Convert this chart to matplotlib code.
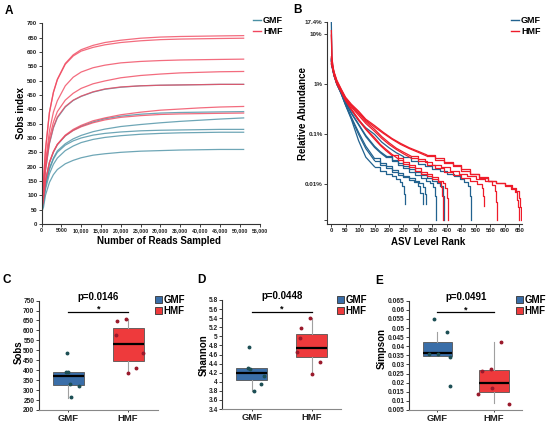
import matplotlib
matplotlib.use('Agg')
import matplotlib.pyplot as plt
from matplotlib.lines import Line2D
from matplotlib.patches import Patch

plt.rcParams['font.family'] = ['Liberation Sans', 'DejaVu Sans']
plt.rcParams['font.weight'] = 'bold'
plt.rcParams['axes.labelweight'] = 'bold'

# ---------------- Panel A data: rarefaction curves ----------------
A_READS = [0, 500, 1000, 2000, 3000, 4000, 6000, 8000, 10000, 13000, 16000,
           20000, 25000, 30000, 35000, 40000, 45000, 51000]
A_HMF = [
    [40, 150, 260, 390, 460, 505, 560, 590, 608, 623, 633, 641, 648, 652, 654, 655, 656, 657],
    [40, 150, 258, 388, 458, 503, 557, 586, 603, 616, 625, 633, 639, 643, 645, 646, 647, 648],
    [40, 130, 215, 325, 390, 430, 482, 512, 530, 545, 554, 562, 567, 570, 572, 573, 574, 575],
    [40, 120, 200, 300, 355, 392, 432, 456, 473, 489, 499, 510, 518, 523, 527, 529, 531, 532],
    [40, 110, 188, 283, 338, 373, 410, 432, 446, 461, 471, 478, 482, 484, 485, 486, 487, 487],
    [40, 90, 150, 215, 252, 278, 310, 330, 344, 360, 370, 381, 390, 397, 401, 405, 408, 410],
    [40, 90, 150, 215, 252, 278, 308, 326, 339, 353, 363, 372, 378, 382, 384, 385, 386, 387],
]
A_GMF = [
    [40, 108, 185, 280, 335, 370, 408, 431, 445, 460, 470, 477, 482, 484, 485, 486, 487, 487],
    [40, 88, 148, 213, 250, 276, 307, 327, 341, 356, 367, 376, 383, 387, 389, 390, 391, 392],
    [40, 82, 135, 195, 230, 255, 280, 297, 309, 322, 331, 340, 347, 353, 358, 362, 366, 370],
    [40, 80, 132, 190, 226, 250, 275, 290, 300, 310, 316, 321, 325, 327, 328, 329, 330, 330],
    [40, 72, 120, 175, 208, 230, 256, 272, 284, 295, 302, 308, 313, 316, 318, 319, 320, 320],
    [40, 58, 100, 145, 172, 190, 210, 222, 231, 240, 245, 250, 254, 256, 258, 259, 260, 260],
]
A_XTICKS = list(range(0, 55001, 5000))
A_XLABELS = ['0', '5000', '10,000', '15,000', '20,000', '25,000', '30,000', '35,000',
             '40,000', '45,000', '50,000', '55,000']
A_YTICKS = list(range(0, 701, 50))

# ---------------- Panel B data: rank-abundance curves (%) ----------------
B_HEAD_RANKS = [1, 3, 6, 10, 20, 35, 50, 70, 95, 120]
B_GMF_HEAD = [
    [3.1, 2.5, 2.0, 1.5, 1.05, 0.65, 0.38, 0.2, 0.075, 0.035],
    [2.9, 2.4, 2.0, 1.5, 1.0, 0.64, 0.39, 0.21, 0.1, 0.052],
    [3.3, 2.6, 2.0, 1.6, 1.0, 0.66, 0.4, 0.22, 0.11, 0.058],
    [2.5, 2.2, 1.9, 1.5, 1.0, 0.68, 0.43, 0.26, 0.155, 0.09],
    [17.4, 3.5, 2.3, 1.7, 1.1, 0.7, 0.44, 0.27, 0.16, 0.095],
    [3.0, 2.5, 2.0, 1.6, 1.1, 0.72, 0.46, 0.3, 0.19, 0.135],
]
B_GMF_TAIL_RANKS = [
    [150, 170, 190, 210, 225, 238, 246, 251, 255],
    [150, 170, 190, 210, 230, 250, 270, 288, 300, 308, 316],
    [150, 170, 190, 210, 230, 250, 270, 290, 305, 316, 323, 328],
    [150, 170, 190, 210, 230, 250, 270, 290, 310, 328, 343, 353, 358, 362],
    [150, 170, 190, 210, 230, 250, 270, 290, 310, 330, 350, 365, 377, 385, 390],
    [150, 175, 200, 225, 250, 275, 300, 325, 350, 375, 400, 425, 445, 460, 472, 479, 483],
]
B_GMF_TAIL_PCT = [
    [0.0226, 0.019, 0.0165, 0.0147, 0.0128, 0.011, 0.0093, 0.0065, 0.004],
    [0.03, 0.025, 0.021, 0.018, 0.0158, 0.014, 0.0125, 0.011, 0.0093, 0.0068, 0.004],
    [0.033, 0.027, 0.023, 0.0195, 0.017, 0.015, 0.0136, 0.012, 0.0105, 0.009, 0.0065, 0.004],
    [0.055, 0.043, 0.035, 0.029, 0.025, 0.021, 0.018, 0.0155, 0.0136, 0.012, 0.0105, 0.0088, 0.006, 0.002],
    [0.058, 0.045, 0.037, 0.031, 0.027, 0.023, 0.02, 0.0175, 0.0155, 0.0136, 0.012, 0.0105, 0.0093, 0.006, 0.002],
    [0.1, 0.07, 0.054, 0.043, 0.036, 0.03, 0.026, 0.023, 0.0205, 0.0185, 0.0165, 0.0145, 0.0126, 0.011, 0.0093, 0.006, 0.002],
]
B_HMF_HEAD = [
    [2.8, 2.4, 2.0, 1.5, 1.0, 0.7, 0.47, 0.31, 0.19, 0.125],
    [3.5, 2.8, 2.2, 1.7, 1.1, 0.72, 0.48, 0.32, 0.2, 0.13],
    [2.6, 2.3, 2.0, 1.6, 1.05, 0.72, 0.5, 0.35, 0.24, 0.165],
    [3.2, 2.6, 2.1, 1.6, 1.1, 0.75, 0.52, 0.37, 0.26, 0.18],
    [9.5, 3.1, 2.2, 1.7, 1.15, 0.78, 0.53, 0.38, 0.28, 0.19],
    [11.7, 3.5, 2.4, 1.8, 1.2, 0.8, 0.55, 0.4, 0.29, 0.2],
]
B_HMF_TAIL_RANKS = [
    [150, 170, 190, 210, 230, 250, 270, 290, 310, 330, 350, 368, 378, 384, 388],
    [150, 170, 190, 210, 230, 250, 270, 290, 310, 330, 350, 370, 385, 395, 401, 405],
    [150, 175, 200, 225, 250, 275, 300, 330, 360, 390, 420, 450, 480, 505, 520, 526, 529],
    [150, 175, 200, 225, 250, 275, 300, 325, 350, 380, 410, 440, 470, 500, 530, 555, 566, 571, 574],
    [150, 180, 210, 240, 270, 300, 330, 360, 390, 420, 450, 480, 510, 540, 570, 600, 620, 635, 642, 645, 647],
    [150, 180, 210, 240, 270, 300, 330, 360, 390, 420, 450, 480, 510, 540, 570, 600, 625, 640, 650, 653, 656],
]
B_HMF_TAIL_PCT = [
    [0.08, 0.06, 0.047, 0.038, 0.031, 0.026, 0.022, 0.019, 0.0165, 0.0145, 0.0126, 0.011, 0.009, 0.006, 0.002],
    [0.086, 0.063, 0.05, 0.04, 0.033, 0.028, 0.024, 0.021, 0.018, 0.016, 0.0138, 0.012, 0.0105, 0.0085, 0.0055, 0.002],
    [0.115, 0.083, 0.063, 0.05, 0.041, 0.034, 0.029, 0.025, 0.021, 0.018, 0.0155, 0.0135, 0.0118, 0.0102, 0.0085, 0.006, 0.0037],
    [0.126, 0.09, 0.068, 0.053, 0.044, 0.037, 0.032, 0.028, 0.025, 0.022, 0.019, 0.0165, 0.0145, 0.0128, 0.0115, 0.0098, 0.0075, 0.0045, 0.002],
    [0.14, 0.105, 0.08, 0.063, 0.052, 0.044, 0.037, 0.031, 0.027, 0.023, 0.019, 0.016, 0.0135, 0.0118, 0.0105, 0.0094, 0.0082, 0.007, 0.005, 0.0035, 0.002],
    [0.15, 0.11, 0.083, 0.066, 0.054, 0.046, 0.039, 0.033, 0.028, 0.024, 0.02, 0.0165, 0.014, 0.012, 0.0108, 0.0097, 0.0085, 0.0074, 0.0055, 0.0035, 0.002],
]
B_STEP_BELOW = 0.04   # tails drawn as staircase below this abundance (%)
B_YTICKS = [0.00196, 0.01, 0.1, 1, 10, 17.4]
B_YLABELS = ['', '0.01%', '0.1%', '1%', '10%', '17.4%']
B_XTICKS = list(range(0, 651, 50))

# ---------------- Panels C-E data: alpha diversity ----------------
GROUPS = ['GMF', 'HMF']
# box statistics: (whislo, q1, med, q3, whishi)
C_BOX = [(262, 325, 371, 389, 389), (388, 448, 534, 611, 656)]
D_BOX = [(3.80, 4.03, 4.19, 4.296, 4.296), (4.164, 4.55, 4.75, 5.05, 5.40)]
E_BOX = [(0.0346, 0.0346, 0.0361, 0.0421, 0.048), (0.0087, 0.015, 0.0196, 0.027, 0.0425)]
# jittered sample points (x position, value)
C_GMF_X = [0.973, 0.961, 1.0, 1.028, 1.179, 1.04]
C_GMF_Y = [485, 389, 393, 331, 321, 264]
C_HMF_X = [1.81, 1.967, 1.794, 2.256, 2.128, 2.005]
C_HMF_Y = [648, 658, 575, 488, 411, 388]
D_GMF_X = [0.95, 0.94, 0.966, 1.21, 1.16, 1.03]
D_GMF_Y = [4.772, 4.31, 4.28, 4.133, 3.944, 3.796]
D_HMF_X = [1.97, 1.82, 1.80, 1.75, 2.14, 2.01]
D_HMF_Y = [5.40, 5.177, 4.956, 4.66, 4.44, 4.164]
E_GMF_X = [0.944, 1.173, 1.014, 0.855, 1.22, 1.22]
E_GMF_Y = [0.05476, 0.048, 0.0356, 0.0356, 0.0339, 0.0182]
E_HMF_X = [2.13, 1.94, 1.79, 1.96, 1.72, 2.27]
E_HMF_Y = [0.0425, 0.0273, 0.0264, 0.0169, 0.0138, 0.0083]
P_VALUES = ['p=0.0146', 'p=0.0448', 'p=0.0491']
SIG_Y = [694, 5.542, 0.0586]
C_YTICKS = list(range(200, 751, 50))
D_YTICKS = [3.4, 3.6, 3.8, 4.0, 4.2, 4.4, 4.6, 4.8, 5.0, 5.2, 5.4, 5.6, 5.8]
D_YLABELS = ['3.4', '3.6', '3.8', '4', '4.2', '4.4', '4.6', '4.8', '5', '5.2', '5.4', '5.6', '5.8']
E_YTICKS = [0.005, 0.01, 0.015, 0.02, 0.025, 0.03, 0.035, 0.04, 0.045, 0.05, 0.055, 0.06, 0.065]
E_YLABELS = ['0.005', '0.01', '0.015', '0.02', '0.025', '0.03', '0.035', '0.04', '0.045',
             '0.05', '0.055', '0.06', '0.065']

# ---------------- styling ----------------
A_GMF_C = '#4a90a4'
A_HMF_C = '#f0475e'
B_GMF_C = '#22628f'
B_HMF_C = '#ee1c2a'
BOX_GMF = '#3a6ea8'
BOX_HMF = '#ee3a3c'
PT_GMF = '#1d4f55'
PT_HMF = '#9a1a2c'
SPINE_C = '#333333'

W, H = 550, 425
fig = plt.figure(figsize=(5.5, 4.25), dpi=100)


def fbox(l, t, r, b):
    return [l / W, 1 - b / H, (r - l) / W, (b - t) / H]


def style_axes(ax, labelsize):
    for s in ['top', 'right']:
        ax.spines[s].set_visible(False)
    for s in ['left', 'bottom']:
        ax.spines[s].set_color(SPINE_C)
        ax.spines[s].set_linewidth(0.8)
    ax.tick_params(axis='both', which='major', length=2, width=0.6, pad=1,
                   labelsize=labelsize, colors='#222222')
    ax.tick_params(axis='both', which='minor', length=0)


# ---------------- Panel A ----------------
axA = fig.add_axes(fbox(41.5, 23.3, 259.5, 224))
for ys in A_GMF:
    axA.plot(A_READS, ys, color=A_GMF_C, lw=0.9, alpha=0.8)
for ys in A_HMF:
    axA.plot(A_READS, ys, color=A_HMF_C, lw=0.9, alpha=0.8)
axA.set_xlim(0, 55000)
axA.set_ylim(0, 700)
axA.set_xticks(A_XTICKS)
axA.set_xticklabels(A_XLABELS)
axA.set_yticks(A_YTICKS)
style_axes(axA, 4.3)
axA.tick_params(axis='x', labelsize=3.8)
axA.set_xlabel('Number of Reads Sampled', fontsize=7)
axA.xaxis.set_label_coords(0.538, -0.085)
axA.xaxis.label.set_va('center')
axA.set_ylabel('Sobs index', fontsize=7)
axA.yaxis.set_label_coords(-0.095, 0.553)
axA.yaxis.label.set_va('center')
fig.legend([Line2D([], [], color=A_GMF_C, lw=1.0), Line2D([], [], color=A_HMF_C, lw=1.0)],
           GROUPS, loc='upper left', bbox_to_anchor=(253 / W, 1 - 16 / H), frameon=False,
           fontsize=6.5, handlelength=0.9, handletextpad=0.2, labelspacing=0.2, borderpad=0,
           borderaxespad=0)

# ---------------- Panel B ----------------
axB = fig.add_axes(fbox(326.7, 21.7, 521.7, 224))


def draw_rank_curve(ax, head, tr, tp, color):
    k = 0
    while k < len(tp) - 1 and tp[k] >= B_STEP_BELOW:
        k += 1
    ax.plot(B_HEAD_RANKS + tr[:k + 1], head + tp[:k + 1], color=color, lw=0.9)
    ax.plot(tr[k:], tp[k:], color=color, lw=0.9, drawstyle='steps-post')


for head, tr, tp in zip(B_GMF_HEAD, B_GMF_TAIL_RANKS, B_GMF_TAIL_PCT):
    draw_rank_curve(axB, head, tr, tp, B_GMF_C)
for head, tr, tp in zip(B_HMF_HEAD, B_HMF_TAIL_RANKS, B_HMF_TAIL_PCT):
    draw_rank_curve(axB, head, tr, tp, B_HMF_C)
axB.set_yscale('log')
axB.set_ylim(0.00163, 17.6)
axB.set_xlim(-15, 658)
axB.set_yticks(B_YTICKS)
axB.set_yticklabels(B_YLABELS)
axB.minorticks_off()
axB.set_xticks(B_XTICKS)
style_axes(axB, 4.5)
axB.tick_params(axis='x', labelsize=4.2)
axB.set_xlabel('ASV Level Rank', fontsize=7)
axB.xaxis.set_label_coords(0.521, -0.089)
axB.xaxis.label.set_va('center')
axB.set_ylabel('Relative Abundance', fontsize=7)
axB.yaxis.set_label_coords(-0.123, 0.544)
axB.yaxis.label.set_va('center')
fig.legend([Line2D([], [], color=B_GMF_C, lw=1.0), Line2D([], [], color=B_HMF_C, lw=1.0)],
           GROUPS, loc='upper left', bbox_to_anchor=(511 / W, 1 - 16 / H), frameon=False,
           fontsize=6.5, handlelength=0.9, handletextpad=0.2, labelspacing=0.2, borderpad=0,
           borderaxespad=0)

# ---------------- Panels C-E ----------------
box_specs = [
    dict(rect=(38.5, 300.6, 157.9, 410), ylim=(200, 750), box=C_BOX,
         pts=((C_GMF_X, C_GMF_Y), (C_HMF_X, C_HMF_Y)), yticks=C_YTICKS, ylabels=None,
         ylabel='Sobs', lab=(-0.165, 0.533), leg=(155, 295)),
    dict(rect=(222, 300, 341.4, 409), ylim=(3.4, 5.8), box=D_BOX,
         pts=((D_GMF_X, D_GMF_Y), (D_HMF_X, D_HMF_Y)), yticks=D_YTICKS, ylabels=D_YLABELS,
         ylabel='Shannon', lab=(-0.155, 0.495), leg=(337, 295)),
    dict(rect=(409, 300.7, 522.4, 410), ylim=(0.005, 0.065), box=E_BOX,
         pts=((E_GMF_X, E_GMF_Y), (E_HMF_X, E_HMF_Y)), yticks=E_YTICKS, ylabels=E_YLABELS,
         ylabel='Simpson', lab=(-0.24, 0.565), leg=(516, 295)),
]

for i, spec in enumerate(box_specs):
    ax = fig.add_axes(fbox(*spec['rect']))
    stats = []
    for g, (lo, q1, med, q3, hi) in zip(GROUPS, spec['box']):
        stats.append(dict(label=g, whislo=lo, q1=q1, med=med, q3=q3, whishi=hi, fliers=[]))
    bp = ax.bxp(stats, positions=[1, 2], widths=0.52, patch_artist=True, showfliers=False,
                showcaps=False,
                boxprops=dict(edgecolor='#555555', linewidth=0.6),
                whiskerprops=dict(color='#a0a0a0', linewidth=0.8),
                medianprops=dict(color='black', linewidth=1.6))
    for patch, col in zip(bp['boxes'], [BOX_GMF, BOX_HMF]):
        patch.set_facecolor(col)
    for (xs, ys), col in zip(spec['pts'], [PT_GMF, PT_HMF]):
        ax.plot(xs, ys, 'o', color=col, markersize=1.8, zorder=5)
    ax.set_xlim(0.5, 2.5)
    ax.set_ylim(*spec['ylim'])
    ax.set_yticks(spec['yticks'])
    if spec['ylabels'] is not None:
        ax.set_yticklabels(spec['ylabels'])
    ax.set_xticks([1, 2])
    ax.set_xticklabels(GROUPS)
    style_axes(ax, 4.8)
    ax.spines['bottom'].set_color('#888888')
    ax.tick_params(axis='x', labelsize=6.8, pad=1.5, length=1.5)
    ax.set_ylabel(spec['ylabel'], fontsize=7)
    ax.yaxis.set_label_coords(*spec['lab'])
    ax.yaxis.label.set_va('center')
    # significance bar
    ax.plot([1, 2], [SIG_Y[i], SIG_Y[i]], color='black', lw=0.9, clip_on=False)
    ax.text(1.5, SIG_Y[i], '*', ha='center', va='baseline', fontsize=6.5)
    ax.text(1.5, 1.0 + 4 / (spec['rect'][3] - spec['rect'][1]), P_VALUES[i],
            ha='center', va='center', fontsize=7,
            transform=ax.get_xaxis_transform(), clip_on=False)
    lx, ly = spec['leg']
    fig.legend([Patch(facecolor=BOX_GMF, edgecolor='#333333', lw=0.6),
                Patch(facecolor=BOX_HMF, edgecolor='#333333', lw=0.6)],
               GROUPS, loc='upper left', bbox_to_anchor=(lx / W, 1 - ly / H), frameon=False,
               fontsize=7, handlelength=0.75, handleheight=0.75, handletextpad=0.15,
               labelspacing=0.12, borderpad=0, borderaxespad=0)

# panel letters
for letter, (px, py) in zip('ABCDE', [(9, 11), (297, 10), (7, 280), (201, 280), (379, 281)]):
    fig.text(px / W, 1 - py / H, letter, ha='center', va='center', fontsize=8.5,
             fontweight='bold')

fig.savefig('out.png', dpi=100)
